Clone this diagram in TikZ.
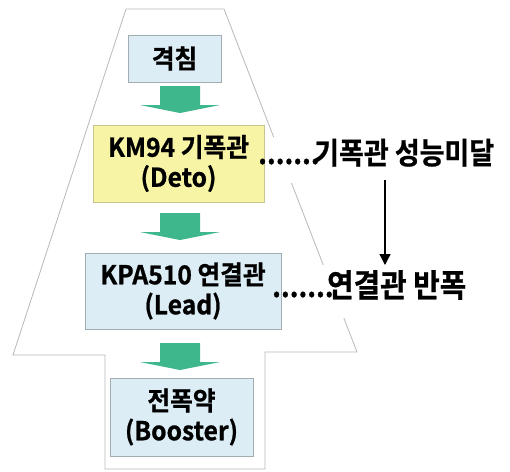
\documentclass[tikz,border=0pt]{standalone}
\usepackage{fontspec}
\setmainfont{Noto Sans CJK KR Bold}
\newfontfamily\boxfont{Noto Sans CJK KR Bold}[FakeStretch=0.95,FakeBold=0.8]
\newfontfamily\sidefont{Noto Sans CJK KR Bold}[FakeStretch=0.9,FakeBold=0.8]
\usetikzlibrary{arrows.meta}
\definecolor{boxblue}{HTML}{DCEDF5}
\definecolor{boxyellow}{HTML}{F7F4A6}
\definecolor{boxedge}{HTML}{A3ACB1}
\definecolor{yedge}{HTML}{C9C58E}
\definecolor{garrowcol}{HTML}{3FB78C}
\definecolor{outlinecol}{HTML}{B9B9B9}
\begin{document}
\begin{tikzpicture}[x=1pt,y=-1pt,
  stagebox/.style={rectangle,draw=boxedge,line width=0.8pt,fill=boxblue,align=center,inner sep=0pt,
    font=\boxfont\fontsize{26}{30}\selectfont},
  sidelabel/.style={inner sep=0pt,font=\sidefont\fontsize{30}{34}\selectfont},
  garrow/.pic={\fill[garrowcol] (-20,0) -- (20,0) -- (20,19) -- (40,19) -- (0,27) -- (-40,19) -- (-20,19) -- cycle;}
]
\useasboundingbox[fill=white] (0,0) rectangle (510,471);
% outline shape
\draw[outlinecol,line width=0.8pt] (126,9) -- (224,9) -- (357,352) -- (265,352) -- (265,469)
  -- (105,469) -- (105,355) -- (13,355) -- cycle;
% hide outline under side labels
\fill[white] (265,137) rectangle (310,183);
\fill[white] (300,265) rectangle (350,318);
% boxes
\node[stagebox,minimum width=93pt,minimum height=47pt] (b1) at (174.5,58.5) {격침};
\node[stagebox,fill=boxyellow,draw=yedge,minimum width=171pt,minimum height=77pt] (b2) at (178.5,163.5) {KM94 기폭관\\(Deto)};
\node[stagebox,minimum width=196pt,minimum height=76pt] (b3) at (183,291) {KPA510 연결관\\(Lead)};
\node[stagebox,minimum width=143pt,minimum height=78pt] (b4) at (181.5,417) {전폭약\\(Booster)};
% green block arrows
\pic at (180,86) {garrow};
\pic at (180,213) {garrow};
\pic at (180,343) {garrow};
% side labels
\node[sidelabel,anchor=base west] (d1) at (258,164) {\makebox[52pt][s]{.\hfill.\hfill.\hfill.\hfill.\hfill.\hfill.}};
\node[sidelabel,anchor=base west] (l1) at (314,164) {기폭관 성능미달};
\node[sidelabel,anchor=base west] (d2) at (272,297) {\makebox[51pt][s]{.\hfill.\hfill.\hfill.\hfill.\hfill.\hfill.}};
\node[sidelabel,anchor=base west,font=\sidefont\fontsize{32}{34}\selectfont] (l2) at (327,297) {연결관 반폭};
% vertical arrow
\coordinate (va) at (385,180);
\coordinate (vb) at (385,265);
\draw[line width=1.3pt,-{Triangle[length=11pt,width=11pt]}] (va) -- (vb);
\end{tikzpicture}
\end{document}
